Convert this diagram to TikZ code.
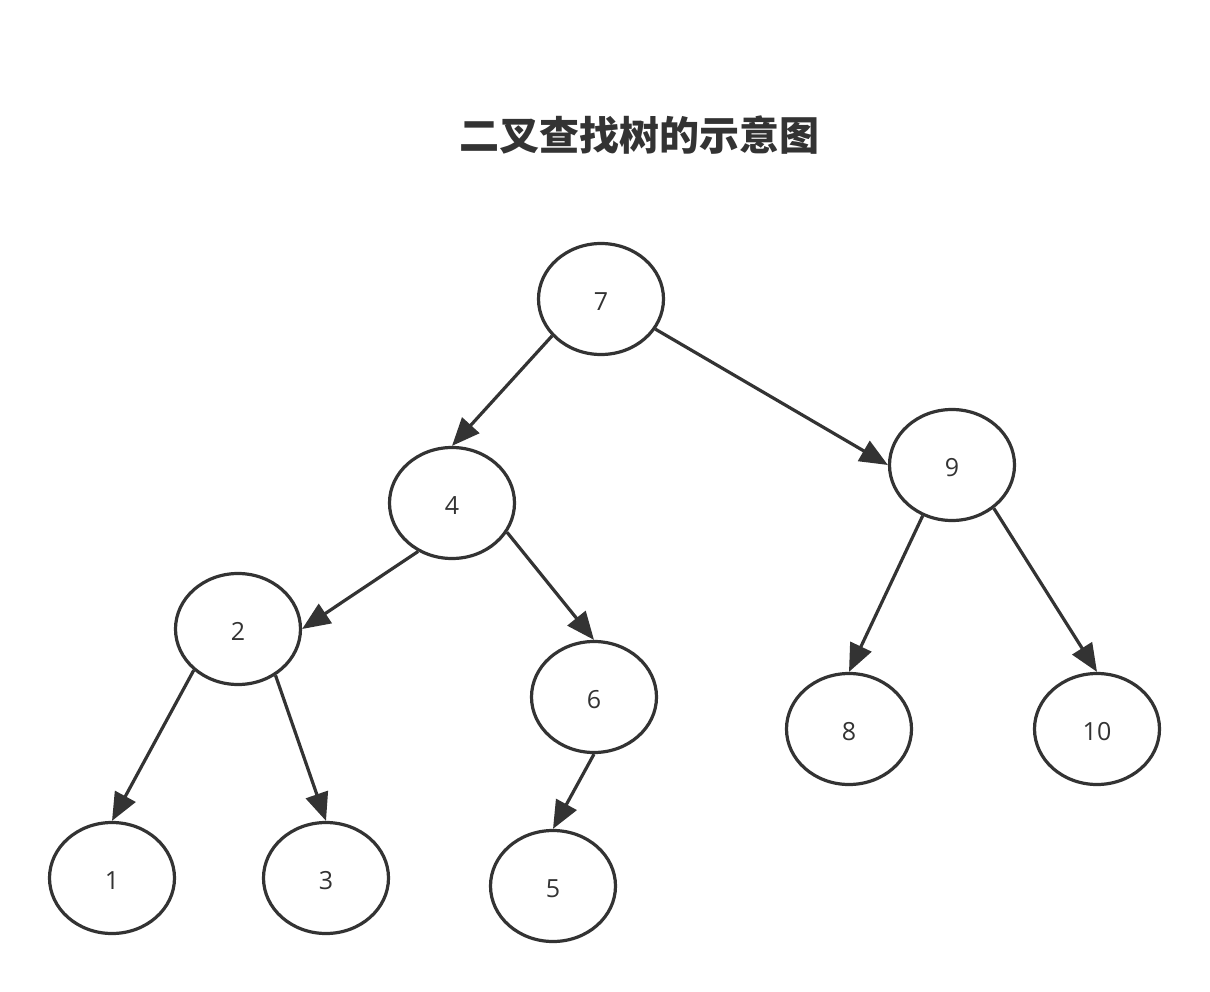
\documentclass[tikz,border=0pt]{standalone}
\usepackage{fontspec}
\setmainfont{Open Sans}
\newfontfamily\cjk{Noto Sans CJK SC}
\usepackage{tikz}
\usetikzlibrary{shapes.geometric, arrows.meta}
\definecolor{ink}{HTML}{333333}

\begin{document}
\begin{tikzpicture}[x=1pt, y=-1pt,
  bstnode/.style = {ellipse, draw = ink, line width = 3.2pt, text = ink,
    minimum width = 125pt, minimum height = 111pt, inner sep = 0pt,
    text height = 23pt, font = \fontsize{25}{29}\selectfont},
  link/.style = {draw = ink, line width = 3.2pt,
    -{Triangle[length = 28pt, width = 23pt]}}]
\useasboundingbox (0,0) rectangle (1210,992);
\node[text = ink, font = \cjk\bfseries\fontsize{40}{44}\selectfont] (title) at (639,135) {二叉查找树的示意图};
% the tree
\node[bstnode] (n7) at (601,299) {7};
\node[bstnode] (n4) at (452,503) {4};
\node[bstnode] (n9) at (952,465) {9};
\node[bstnode] (n2) at (238,629) {2};
\node[bstnode] (n6) at (594,697) {6};
\node[bstnode] (n8) at (849,729) {8};
\node[bstnode] (n10) at (1097,729) {10};
\node[bstnode] (n1) at (112,878) {1};
\node[bstnode] (n3) at (326,878) {3};
\node[bstnode] (n5) at (553,886) {5};
\draw[link] (n7.217) -- (n4.north);
\draw[link] (n7.331) -- (n9.west);
\draw[link] (n4.235) -- (n2.east);
\draw[link] (n4.332) -- (n6.north);
\draw[link] (n2.223) -- (n1.north);
\draw[link] (n2.309) -- (n3.north);
\draw[link] (n6.south) -- (n5.north);
\draw[link] (n9.240) -- (n8.north);
\draw[link] (n9.314) -- (n10.north);
\end{tikzpicture}
\end{document}
